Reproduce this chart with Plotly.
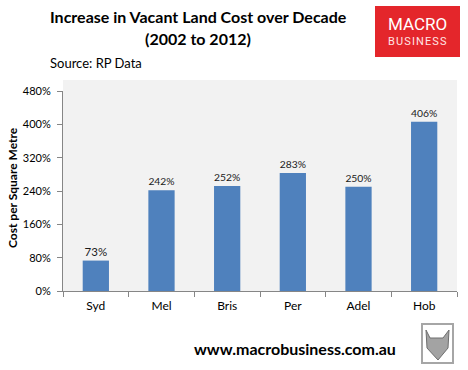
import plotly.graph_objects as go

cities = ["Syd", "Mel", "Bris", "Per", "Adel", "Hob"]
increase_pct = [73, 242, 252, 283, 250, 406]
y_ticks = [0, 80, 160, 240, 320, 400, 480]
y_tick_labels = [f"{v}%" for v in y_ticks]

FONT = "Lato, 'Open Sans', sans-serif"
W, H = 468, 370
L, R, T, B = 63, 11, 91, 79

def ppx(x):  # paper x from pixel
    return (x - L) / (W - L - R)

def ppy(y):
    return (H - B - y) / (H - T - B)

fig = go.Figure()
fig.add_trace(go.Bar(
    x=cities, y=increase_pct,
    marker=dict(color="#4f81bd", line=dict(width=0)),
    text=[f"{v}%" for v in increase_pct],
    textposition="outside",
    textfont=dict(family=FONT, size=11.5, color="#1a1a1a"),
    cliponaxis=False,
    width=0.4,
))

shapes = [
    dict(type="rect", xref="paper", yref="paper", x0=0, x1=1, y0=1, y1=ppy(80),
         fillcolor="#f2f2f2", line=dict(width=0), layer="below"),
    dict(type="rect", xref="paper", yref="paper", x0=ppx(375), x1=ppx(460), y0=ppy(57), y1=ppy(6),
         fillcolor="#e4262b", line=dict(width=0)),
    dict(type="rect", xref="paper", yref="paper", x0=ppx(422), x1=ppx(453), y0=ppy(363), y1=ppy(324),
         fillcolor="#ffffff", line=dict(color="#a6a6a6", width=2)),
    dict(type="path", xref="paper", yref="paper",
         path=(f"M {ppx(426)},{ppy(330)} L {ppx(430)},{ppy(338)} L {ppx(443)},{ppy(338)} "
               f"L {ppx(449)},{ppy(330)} L {ppx(448)},{ppy(348)} L {ppx(438)},{ppy(360)} "
               f"L {ppx(427)},{ppy(348)} Z"),
         fillcolor="#a3a3a3", line=dict(color="#6e6e6e", width=1)),
]

annotations = [
    dict(text="<b>Increase in Vacant Land Cost over Decade</b>", x=ppx(198), y=ppy(17),
         font=dict(family=FONT, size=16, color="#000000")),
    dict(text="<b>(2002 to 2012)</b>", x=ppx(198), y=ppy(38),
         font=dict(family=FONT, size=16, color="#000000")),
    dict(text="Source: RP Data", x=ppx(48), y=ppy(63), xanchor="left",
         font=dict(family=FONT, size=13, color="#000000")),
    dict(text="<b>Cost per Square Metre</b>", x=ppx(12), y=ppy(188), textangle=-90,
         font=dict(family=FONT, size=12, color="#000000")),
    dict(text="<b>www.macrobusiness.com.au</b>", x=ppx(295), y=ppy(348),
         font=dict(family=FONT, size=16, color="#000000")),
    dict(text="MACRO", x=ppx(417), y=ppy(24),
         font=dict(family="Roboto, sans-serif", size=17, color="#ffffff")),
    dict(text="B\u200aU\u200aS\u200aI\u200aN\u200aE\u200aS\u200aS", x=ppx(417), y=ppy(42),
         font=dict(family="Roboto, sans-serif", size=11, color="#ffe4e4")),
]
for a in annotations:
    a.update(xref="paper", yref="paper", showarrow=False, yanchor="middle",
             xanchor=a.get("xanchor", "center"))

fig.update_layout(
    width=W, height=H,
    margin=dict(l=L, r=R, t=T, b=B, pad=0),
    paper_bgcolor="#ffffff",
    plot_bgcolor="#f2f2f2",
    showlegend=False,
    shapes=shapes,
    annotations=annotations,
    bargap=0.6,
)
fig.update_xaxes(
    showline=True, linecolor="#868686", linewidth=1,
    ticks="outside", ticklen=5, tickcolor="#868686", tickson="boundaries",
    tickfont=dict(family=FONT, size=12, color="#000000"),
    ticklabelstandoff=4,
    showgrid=False, fixedrange=True,
)
fig.update_yaxes(
    range=[0, 480], tickvals=y_ticks, ticktext=y_tick_labels,
    showline=True, linecolor="#868686", linewidth=1,
    ticks="outside", ticklen=5, tickcolor="#868686",
    tickfont=dict(family=FONT, size=11, color="#000000"),
    ticklabelstandoff=4,
    showgrid=False, zeroline=False, fixedrange=True,
)

fig.write_html("out.html", config={"displayModeBar": False},
               post_script="document.body.style.margin='0';")
